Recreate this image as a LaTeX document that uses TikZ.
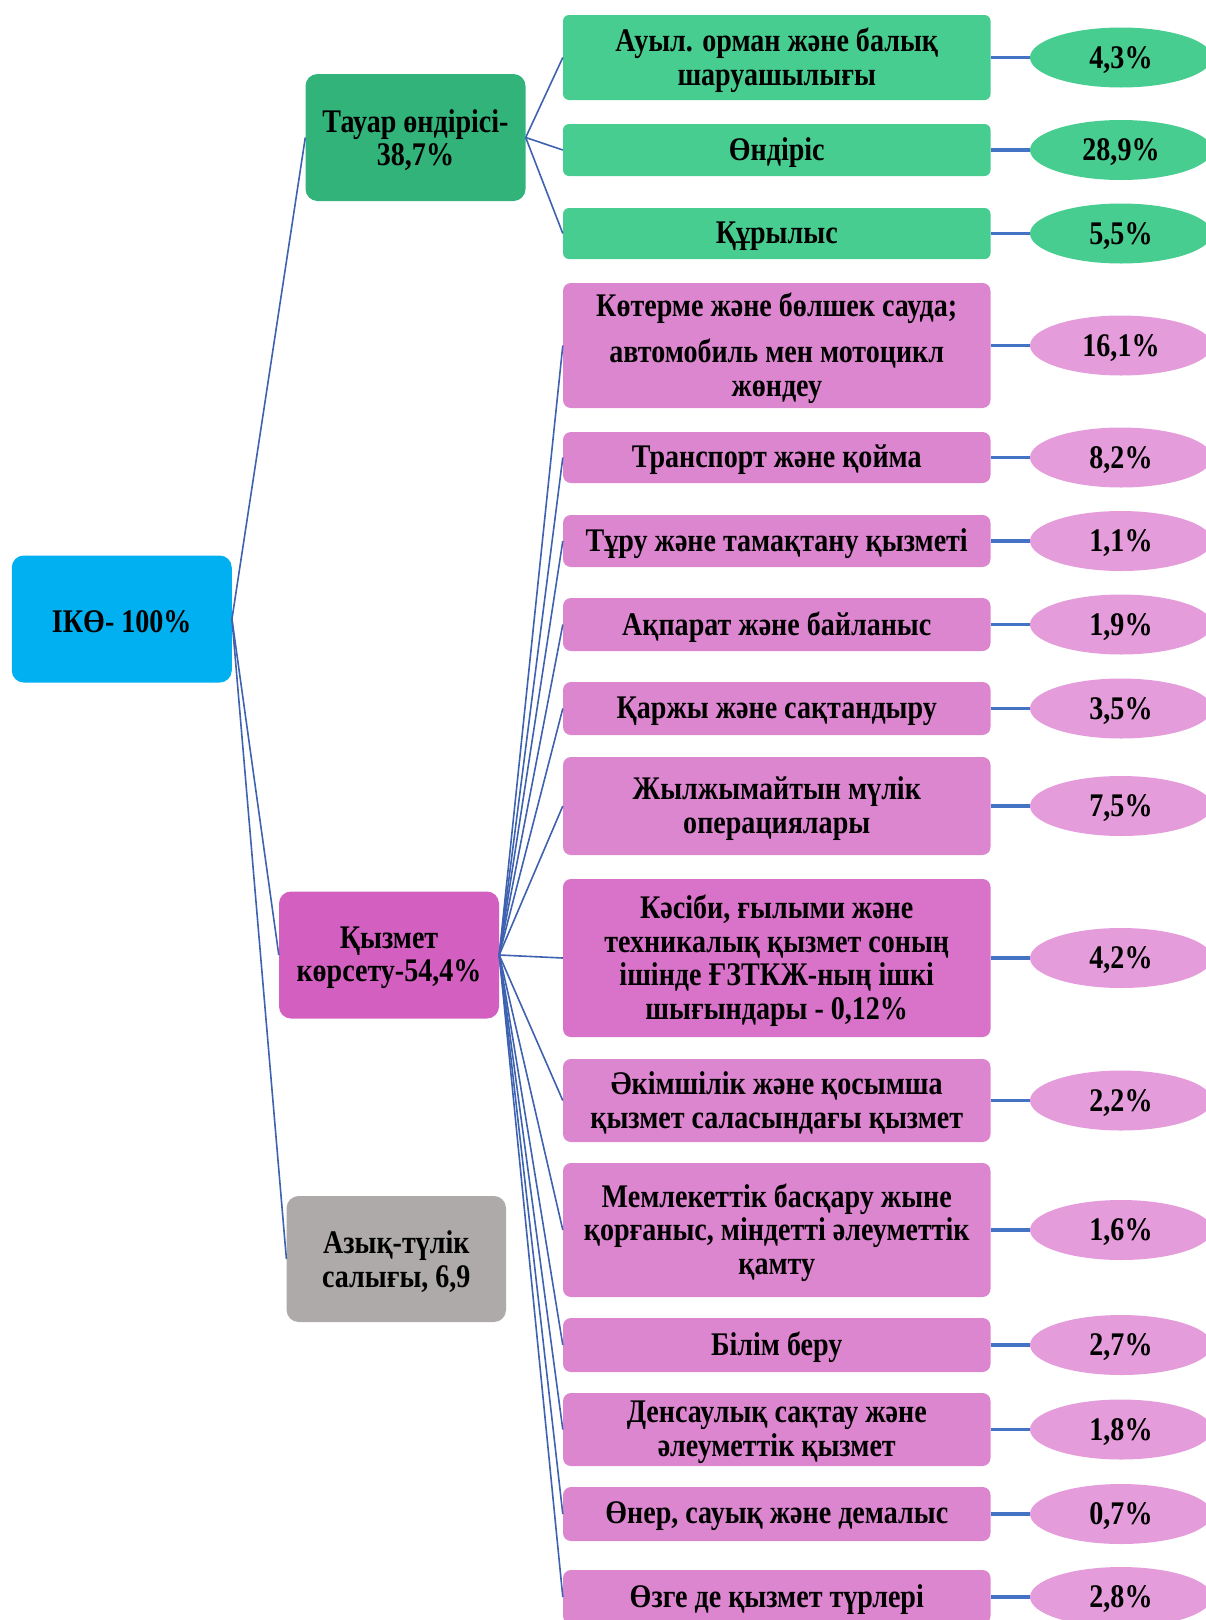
\documentclass[tikz,border=0pt]{standalone}
\usepackage{fontspec}
\setmainfont{Liberation Serif}[FakeStretch=0.85]
\usetikzlibrary{shapes.geometric}
\definecolor{ikoC}{HTML}{00B0F0}
\definecolor{tauarC}{HTML}{32B37A}
\definecolor{greenC}{HTML}{47CD8F}
\definecolor{kyzC}{HTML}{D35FC1}
\definecolor{pinkC}{HTML}{DD86D0}
\definecolor{pinkD}{HTML}{D873C9}
\definecolor{pinkE}{HTML}{E49DDA}
\definecolor{grayC}{HTML}{AEAAAA}
\definecolor{lineC}{HTML}{3F62B0}
\definecolor{hlineC}{HTML}{4472C4}
\tikzset{
  txt/.style={font=\bfseries\fontsize{33}{33.5}\selectfont, align=center, inner sep=0pt, text=black},
  mainbox/.style={rounded corners=12pt, minimum width=220pt, minimum height=127pt},
  rbox/.style={fill=pinkC, rounded corners=8pt, minimum width=427.5pt},
  gbox/.style={rbox, fill=greenC, rounded corners=6pt},
  pell/.style={ellipse, fill=pinkE, minimum width=182pt, minimum height=60pt},
  gell/.style={pell, fill=greenC},
  conn/.style={draw=lineC, line width=1.6pt},
  hconn/.style={draw=hlineC, line width=3.5pt},
}
% #1 shape style, #2 name, #3 position, #4 text
\newcommand\tbox[4]{%
  \node[#1, inner sep=0pt] (#2) at (#3) {};
  \node[txt] (#2t) at ([yshift=-2.5pt]#2.center) {#4};}
\begin{document}
\begin{tikzpicture}[x=1pt,y=-1pt]
\useasboundingbox (0,0) rectangle (1206,1620);
\clip (0,0) rectangle (1206,1620);
% main nodes
\tbox{mainbox, fill=ikoC}{iko}{121.75,619}{ІКӨ- 100\%}
\tbox{mainbox, fill=tauarC}{tauar}{415.5,137.5}{Тауар өндірісі-\\38,7\%}
\tbox{mainbox, fill=kyzC}{kyz}{389,955}{Қызмет\\көрсету-54,4\%}
\tbox{mainbox, fill=grayC, minimum width=219.4pt, minimum height=126pt}{azyk}{396.3,1259}{Азық-түлік\\салығы, 6,9}
% right boxes
\tbox{gbox, minimum height=85pt}{b1}{776.75,57.5}{Ауыл. орман және балық\\шаруашылығы}
\tbox{gbox, minimum height=52pt}{b2}{776.75,150}{Өндіріс}
\tbox{gbox, minimum height=51pt}{b3}{776.75,233.5}{Құрылыс}
\tbox{rbox, minimum height=125pt}{b4}{776.75,345.5}{Көтерме және бөлшек сауда;\\[13pt]автомобиль мен мотоцикл\\жөндеу}
\tbox{rbox, minimum height=51pt}{b5}{776.75,457.5}{Транспорт және қойма}
\tbox{rbox, minimum height=52pt}{b6}{776.75,541}{Тұру және тамақтану қызметі}
\tbox{rbox, minimum height=53pt}{b7}{776.75,624.5}{Ақпарат және байланыс}
\tbox{rbox, minimum height=53pt}{b8}{776.75,708.5}{Қаржы және сақтандыру}
\tbox{rbox, minimum height=98pt}{b9}{776.75,806}{Жылжымайтын мүлік\\операциялары}
\tbox{rbox, fill=pinkD, minimum height=158pt}{b10}{776.75,958}{Кәсіби, ғылыми және\\техникалық қызмет соның\\ішінде ҒЗТКЖ-ның ішкі\\шығындары - 0,12\%}
\tbox{rbox, minimum height=83pt}{b11}{776.75,1100.5}{Әкімшілік және қосымша\\қызмет саласындағы қызмет}
\tbox{rbox, minimum height=134pt}{b12}{776.75,1230}{Мемлекеттік басқару жыне\\қорғаныс, міндетті әлеуметтік\\қамту}
\tbox{rbox, minimum height=54pt}{b13}{776.75,1345}{Білім беру}
\tbox{rbox, minimum height=73pt}{b14}{776.75,1429.5}{Денсаулық сақтау және\\әлеуметтік қызмет}
\tbox{rbox, minimum height=54pt}{b15}{776.75,1514}{Өнер, сауық және демалыс}
\tbox{rbox, minimum height=54pt}{b16}{776.75,1597}{Өзге де қызмет түрлері}
% ellipses
\tbox{gell}{e1}{1121,57.5}{4,3\%}
\tbox{gell}{e2}{1121,150}{28,9\%}
\tbox{gell}{e3}{1121,233.5}{5,5\%}
\tbox{pell}{e4}{1121,345.5}{16,1\%}
\tbox{pell}{e5}{1121,457.5}{8,2\%}
\tbox{pell}{e6}{1121,541}{1,1\%}
\tbox{pell}{e7}{1121,624.5}{1,9\%}
\tbox{pell}{e8}{1121,708.5}{3,5\%}
\tbox{pell}{e9}{1121,806}{7,5\%}
\tbox{pell}{e10}{1121,958}{4,2\%}
\tbox{pell}{e11}{1121,1100.5}{2,2\%}
\tbox{pell}{e12}{1121,1230}{1,6\%}
\tbox{pell}{e13}{1121,1345}{2,7\%}
\tbox{pell}{e14}{1121,1429.5}{1,8\%}
\tbox{pell}{e15}{1121,1514}{0,7\%}
\tbox{pell}{e16}{1121,1597}{2,8\%}
% connectors
\draw[conn] (iko.east) -- (tauar.west);
\draw[conn] (iko.east) -- (kyz.west);
\draw[conn] (iko.east) -- (azyk.west);
\foreach \i in {1,2,3} {\draw[conn] (tauar.east) -- (b\i.west);}
\foreach \i in {4,...,16} {\draw[conn] (kyz.east) -- (b\i.west);}
\foreach \i in {1,...,16} {\draw[hconn] (b\i.east) -- (e\i.west);}
\end{tikzpicture}
\end{document}
